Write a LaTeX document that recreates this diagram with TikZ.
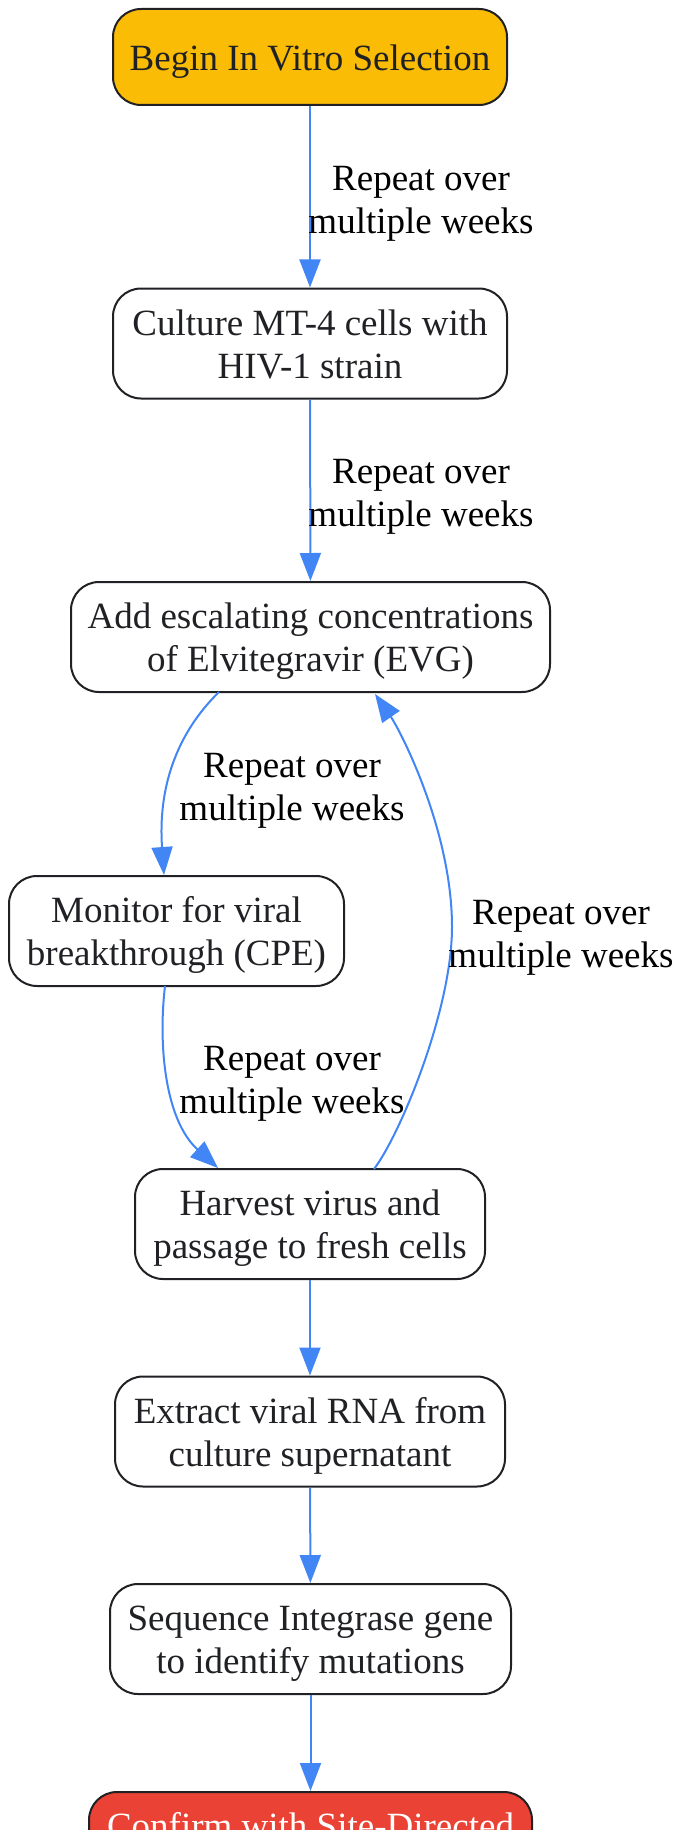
\documentclass[tikz,border=0pt]{standalone}
\usepackage{fontspec}
\setmainfont{Liberation Serif}
\usetikzlibrary{arrows.meta}
\definecolor{edgeblue}{HTML}{4285F4}
\definecolor{startyellow}{HTML}{FBBC05}
\definecolor{endred}{HTML}{EA4335}
\definecolor{boxtext}{HTML}{202124}
\newcommand{\boxlines}[1]{\raisebox{-2.3pt}[\height][\depth]{\begin{tabular}{@{}c@{}}#1\end{tabular}}}
\tikzset{
  stepbox/.style={draw=boxtext, line width=1pt, rounded corners=14pt, align=center,
    inner sep=0pt, text=boxtext, font=\fontsize{18.5}{21.5}\selectfont, fill=white},
  flow/.style={draw=edgeblue, line width=1pt, -{Triangle[length=14pt,width=10.5pt]}},
  lbl/.style={align=center, font=\fontsize{18.5}{21.5}\selectfont, text=black, inner sep=0pt}
}
\begin{document}
\begin{tikzpicture}[x=0.5pt,y=-0.5pt]
\useasboundingbox (0,0) rectangle (679,1830);
\node[stepbox, fill=startyellow, minimum width=197pt, minimum height=48pt] (n1) at (310,57) {\boxlines{Begin In Vitro Selection}};
\node[stepbox, minimum width=197pt, minimum height=55pt] (n2) at (310,343.5) {\boxlines{Culture MT-4 cells with\\HIV-1 strain}};
\node[stepbox, minimum width=239.5pt, minimum height=55pt] (n3) at (310.5,637) {\boxlines{Add escalating concentrations\\of Elvitegravir (EVG)}};
\node[stepbox, minimum width=167.5pt, minimum height=55pt] (n4) at (176.5,931) {\boxlines{Monitor for viral\\breakthrough (CPE)}};
\node[stepbox, minimum width=175pt, minimum height=55pt] (n5) at (310,1224) {\boxlines{Harvest virus and\\passage to fresh cells}};
\node[stepbox, minimum width=195pt, minimum height=55pt] (n6) at (310,1431.5) {\boxlines{Extract viral RNA from\\culture supernatant}};
\node[stepbox, minimum width=200.5pt, minimum height=55pt] (n7) at (310.5,1639) {\boxlines{Sequence Integrase gene\\to identify mutations}};
\node[stepbox, fill=endred, text=white, minimum width=221.5pt, minimum height=55pt] (n8) at (310.5,1847) {\boxlines{Confirm with Site-Directed\\Mutagenesis}};

\draw[flow] (n1) -- (n2);
\draw[flow] (n2) -- (n3);
\draw[flow] (n5) -- (n6);
\draw[flow] (n6) -- (n7);
\draw[flow] (n7) -- (n8);

\coordinate (a1) at (219,692);
\coordinate (a2) at (165,986);
\coordinate (a3) at (374,1169);
\draw[flow] (a1) .. controls (175,735) and (158,790) .. (n4.north -| 164,0);
\draw[flow] (a2) .. controls (158,1045) and (165,1120) .. (218,1168);
\draw[flow] (a3) .. controls (400,1135) and (452,1010) .. (452,927) .. controls (452,830) and (400,730) .. (375,694);

\node[lbl] (l1) at (421,203.5) {Repeat over\\multiple weeks};
\node[lbl] (l2) at (421,496.5) {Repeat over\\multiple weeks};
\node[lbl] (l3) at (292,790.5) {Repeat over\\multiple weeks};
\node[lbl] (l4) at (561,937.5) {Repeat over\\multiple weeks};
\node[lbl] (l5) at (292,1083.5) {Repeat over\\multiple weeks};
\end{tikzpicture}
\end{document}
